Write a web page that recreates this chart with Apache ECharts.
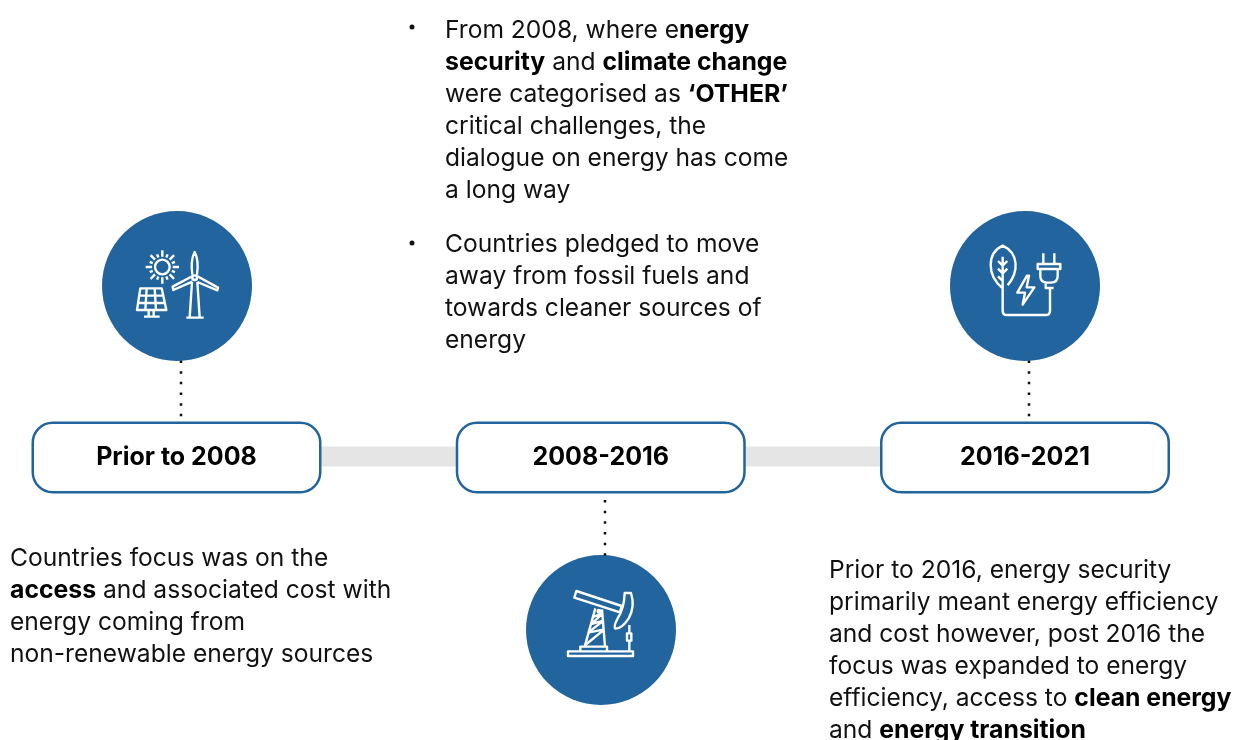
<!DOCTYPE html>
<html>
<head>
    <meta charset="utf-8"/>
    <title>Energy dialogue timeline</title>
    <style>
        html, body { margin: 0; padding: 0; background: #fff; }
        #chart { width: 1234px; height: 740px; }
    </style>
</head>
<body>
<div id="chart"></div>
<script src="https://cdn.jsdelivr.net/npm/echarts@6/dist/echarts.min.js"></script>
<script>
    // data
    var stages = ['Prior to 2008', '2008-2016', '2016-2021'];
    var iconSides = ['above', 'below', 'above'];
    var iconNames = ['renewables', 'oil', 'green'];

    var priorLines = [
        '{r|Countries focus was on the}',
        '{b|access}{r| and associated cost with}',
        '{r|energy coming from}',
        '{r|non-renewable energy sources}'
    ];
    var middleLinesA = [
        '{r|From 2008, where e}{b|nergy}',
        '{b|security}{r| and }{b|climate change}',
        '{r|were categorised as }{b|‘OTHER’}',
        '{r|critical challenges, the}',
        '{r|dialogue on energy has come}',
        '{r|a long way}'
    ];
    var middleLinesB = [
        '{r|Countries pledged to move}',
        '{r|away from fossil fuels and}',
        '{r|towards cleaner sources of}',
        '{r|energy}'
    ];
    var recentLines = [
        '{r|Prior to 2016, energy security}',
        '{r|primarily meant energy efficiency}',
        '{r|and cost however, post 2016 the}',
        '{r|focus was expanded to energy}',
        '{r|efficiency, access to }{b|clean energy}',
        '{r|and }{b|energy transition}'
    ];

    // colours and layout
    var BLUE = '#22649e';
    var GREY = '#e5e5e5';
    var INK = '#111111';
    var FONT = 'Inter, Lato, sans-serif';
    var BOX_Y = 457.5, BOX_W = 287.5, BOX_H = 69.5;
    var CIRCLE_R = 75;

    // icons are traced in a 450 box around the circle, scaled down to it
    function sunRays() {
        var d = '';
        for (var i = 0; i < 16; i++) {
            var a = i * Math.PI / 8;
            var r2 = i % 2 === 0 ? 50 : 41;
            d += 'M' + (186 + 31 * Math.cos(a)) + ' ' + (171 + 31 * Math.sin(a)) +
                'L' + (186 + r2 * Math.cos(a)) + ' ' + (171 + r2 * Math.sin(a));
        }
        return d;
    }
    var iconPaths = {
        renewables: {
            x: 230, y: 228,
            d: 'M164 171a22 22 0 1 0 44 0a22 22 0 1 0 -44 0' + sunRays() +
                'M120 235L184 235L198 300L110 300Z' +
                'M116 257L190 257M114 279L194 279M139 235L135 300M163 235L167 300' +
                'M145 300L145 318M160 300L160 318M131 320L178 320' +
                'M276 194Q270 150 283 126Q296 150 290 194' +
                'M276 203a7 7 0 1 0 14 0a7 7 0 1 0 -14 0' +
                'M277 198L217 230L219 240L276 215' +
                'M290 198L353 233L351 241L291 216' +
                'M275 216L268 322M291 216L298 322M258 323L310 323'
        },
        green: {
            x: 240, y: 228,
            d: 'M173 235C125 195 125 130 173 107C222 130 222 185 188 226' +
                'M173 140L173 302Q173 315 186 315L302 315Q315 315 315 302L315 235' +
                'M159 153L173 167L187 153M159 176L173 190L187 176M159 199L173 213' +
                'M295 130L295 162M328 130L328 162M278 162L346 162L346 177L278 177Z' +
                'M286 177L286 198Q286 218 306 218L318 218Q338 218 338 198L338 177' +
                'M302 218L302 234L326 234' +
                'M246 197L217 248L240 248L233 284L268 232L245 232L252 197Z'
        },
        oil: {
            x: 242, y: 240,
            d: 'M143 304L338 304L338 318L143 318Z' +
                'M180 290L260 290L260 304L180 304Z' +
                'M168 123L304 168L299 187L162 143Z' +
                'M313 129L332 129Q345 170 325 205Q305 236 285 236Q279 230 291 207Q312 175 313 129Z' +
                'M236 180a4 4 0 1 0 0.1 0' +
                'M225 175L193 290M245 178L254 290' +
                'M220 200L247 190M247 190L213 222M213 222L250 212M250 212L203 248M203 248L252 238M252 238L195 285' +
                'M327 225L327 250M320 250L333 250L333 272L320 272ZM327 272L327 304'
        }
    };

    var myChart = echarts.init(document.getElementById('chart'), null, {renderer: 'canvas'});

    function textBlock(x, y, lines) {
        return {
            type: 'text',
            x: x,
            y: y,
            silent: true,
            style: {
                text: lines.join('\n'),
                rich: {
                    r: {fontFamily: FONT, fontSize: 24.6, fontWeight: 400, fill: INK, lineHeight: 32},
                    b: {fontFamily: FONT, fontSize: 24.8, fontWeight: 700, fill: '#000', lineHeight: 32}
                }
            }
        };
    }

    function bullet(x, y) {
        return {type: 'circle', x: x, y: y, silent: true, shape: {r: 2.5}, style: {fill: INK}};
    }

    var option = {
        animation: false,
        backgroundColor: '#fff',
        grid: {left: 0, right: 0, top: 0, bottom: 0},
        // stage index axis, scaled so stages fall 424.25px apart
        xAxis: {type: 'value', min: -176.5 / 424.25, max: 1057.5 / 424.25, show: false},
        yAxis: {type: 'value', min: 0, max: 740, inverse: true, show: false},
        graphic: [
            bullet(412, 27),
            bullet(412, 243),
            textBlock(445, 15, middleLinesA),
            textBlock(445, 229, middleLinesB),
            textBlock(10, 543, priorLines),
            textBlock(829, 555, recentLines)
        ],
        series: [
            {
                // grey bar joining the stage boxes
                type: 'custom',
                silent: true,
                data: [[0, 2]],
                encode: {x: [0, 1]},
                renderItem: function (params, api) {
                    var from = api.coord([api.value(0), BOX_Y]);
                    var to = api.coord([api.value(1), BOX_Y]);
                    return {
                        type: 'rect',
                        shape: {x: from[0], y: from[1] - 11, width: to[0] - from[0], height: 20},
                        style: {fill: GREY}
                    };
                }
            },
            {
                type: 'custom',
                silent: true,
                data: stages.map(function (s, i) { return [i, BOX_Y]; }),
                encode: {x: 0, y: 1},
                renderItem: function (params, api) {
                    var i = api.value(0);
                    var c = api.coord([i, api.value(1)]);
                    var above = iconSides[i] === 'above';
                    var cx = Math.round(c[0] + 0.3);
                    var cy = above ? c[1] - 171.5 : c[1] + 172.5;
                    var stemTop = above ? c[1] - 97 : c[1] + 42.5;
                    var icon = iconPaths[iconNames[i]];
                    return {
                        type: 'group',
                        children: [
                            {
                                type: 'circle',
                                shape: {cx: cx, cy: cy, r: CIRCLE_R},
                                style: {fill: BLUE}
                            },
                            {
                                type: 'line',
                                shape: {x1: cx + 4, y1: stemTop, x2: cx + 4, y2: stemTop + 56},
                                style: {stroke: '#111', lineWidth: 2.5, lineDash: [2.5, 8.17]}
                            },
                            {
                                type: 'path',
                                shape: {
                                    // the two moves pin the traced box so scaling stays 1:3
                                    pathData: 'M' + (icon.x - 225) + ' ' + (icon.y - 225) +
                                        'M' + (icon.x + 225) + ' ' + (icon.y + 225) + icon.d,
                                    x: cx - CIRCLE_R,
                                    y: cy - CIRCLE_R,
                                    width: CIRCLE_R * 2,
                                    height: CIRCLE_R * 2,
                                    layout: 'cover'
                                },
                                style: {fill: 'none', stroke: '#fff', lineWidth: 2.4, lineJoin: 'round'}
                            },
                            {
                                type: 'rect',
                                shape: {
                                    x: c[0] - BOX_W / 2,
                                    y: c[1] - BOX_H / 2,
                                    width: BOX_W,
                                    height: BOX_H,
                                    r: 20
                                },
                                style: {fill: '#fff', stroke: BLUE, lineWidth: 2.5}
                            },
                            {
                                type: 'text',
                                x: c[0],
                                y: c[1],
                                style: {
                                    text: stages[i],
                                    fontFamily: FONT,
                                    fontSize: 25,
                                    fontWeight: 700,
                                    fill: '#000',
                                    align: 'center',
                                    verticalAlign: 'middle'
                                }
                            }
                        ]
                    };
                }
            }
        ]
    };
    myChart.setOption(option);
</script>
</body>
</html>
